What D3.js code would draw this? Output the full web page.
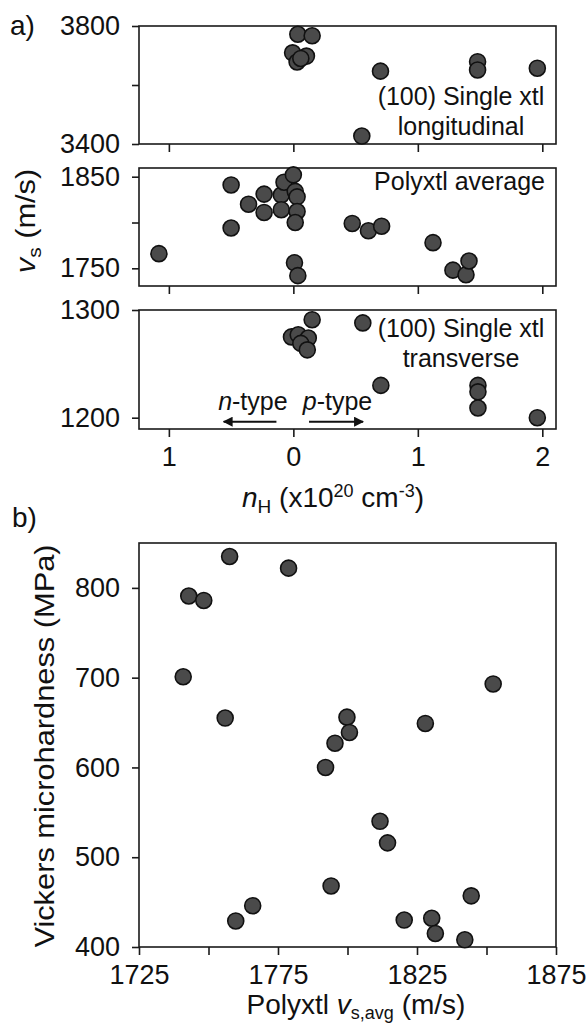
<!DOCTYPE html>
<html>
<head>
<meta charset="utf-8">
<script src="https://cdn.jsdelivr.net/npm/d3@7"></script>
<style>
  body { margin: 0; background: #fff; }
  svg text { font-family: "Liberation Sans", Arial, Helvetica, sans-serif; fill: #111; }
  .tick line { stroke: #1a1a1a; stroke-width: 1.6; }
  .domain { display: none; }
</style>
</head>
<body>
<svg id="fig" width="587" height="1026"></svg>
<script>
//////////////////// DATA ////////////////////
// panel a, top: (100) single crystal, longitudinal
const longN = [0.036, 0.151, -0.006, 0.105, 0.03, 0.06, 0.70, 1.48, 1.48, 1.96, 0.55];
const longV = [3772, 3767, 3709, 3698, 3678, 3690, 3647, 3679, 3651, 3657, 3427];

// panel a, middle: polycrystal average
const avgN = [-1.08, -0.50, -0.50, -0.36, -0.235, -0.235, -0.097, -0.097, -0.075, 0.0, 0.015, 0.03,
              0.03, 0.015, 0.009, 0.036, 0.473, 0.603, 0.709, 1.122, 1.282, 1.387, 1.411];
const avgV = [1766, 1841, 1794, 1820, 1831, 1811, 1830, 1814, 1844, 1852, 1834, 1828,
              1812, 1800, 1756, 1742, 1799, 1791, 1796, 1778, 1748, 1743, 1758];

// panel a, bottom: (100) single crystal, transverse
const transN = [0.151, 0.558, -0.015, 0.039, 0.12, 0.06, 0.112, 0.703, 1.483, 1.483, 1.483, 1.96];
const transV = [1291, 1288, 1275, 1277, 1274, 1269, 1263, 1230, 1230, 1224, 1209, 1200];

// panel b: hardness vs polycrystal average sound velocity
const hardVs = [1740.9, 1742.9, 1748.3, 1757.6, 1778.8, 1756, 1852.4, 1799.8, 1800.7, 1795.5, 1792.1,
                1828, 1811.7, 1814.4, 1794.1, 1765.9, 1759.8, 1820.4, 1830.3, 1831.6, 1842.2, 1844.5];
const hardHv = [701, 791, 786, 835, 822, 655, 693, 656, 639, 627, 600,
                649, 540, 516, 468, 446, 429, 430, 432, 415, 408, 457];

// ticks
const xTicksA = [-1, 0, 1, 2];
const yTicksTop = [3400, 3600, 3800], yLabelsTop = [3400, 3800];
const yTicksMid = [1750, 1800, 1850], yLabelsMid = [1750, 1850];
const yTicksBot = [1200, 1300], yLabelsBot = [1200, 1300];
const xTicksB = [1725, 1750, 1775, 1800, 1825, 1850, 1875], xLabelsB = [1725, 1775, 1825, 1875];
const yTicksB = [400, 500, 600, 700, 800];


//////////////////// SIZES ////////////////////
const svg = d3.select("#fig");
const plotLeft = 139, plotRight = 556;
const fontTick = 27, fontTitle = 28, fontNote = 25;
const markerR = 8;


//////////////////// SCALES ////////////////////
const xA = d3.scaleLinear().domain([-1.24, 2.11]).range([plotLeft, plotRight]);
const panelsA = [
    { top: 26, bottom: 144, domain: [3400, 3800], ticks: yTicksTop, labels: yLabelsTop, n: longN, v: longV },
    { top: 168, bottom: 286, domain: [1730.7, 1859.5], ticks: yTicksMid, labels: yLabelsMid, n: avgN, v: avgV },
    { top: 310, bottom: 429, domain: [1189.5, 1300], ticks: yTicksBot, labels: yLabelsBot, n: transN, v: transV }
];
panelsA.forEach(p => {
    p.y = d3.scaleLinear().domain(p.domain).range([p.bottom, p.top]);
});

const xB = d3.scaleLinear().domain([1725, 1875]).range([plotLeft, plotRight]);
const yB = d3.scaleLinear().domain([400, 850]).range([947, 543]);


//////////////////// HELPERS ////////////////////
function drawFrame(top, bottom) {
    svg.append("rect")
        .attr("x", plotLeft)
        .attr("y", top)
        .attr("width", plotRight - plotLeft)
        .attr("height", bottom - top)
        .attr("fill", "none")
        .attr("stroke", "#1a1a1a")
        .attr("stroke-width", 1.6);
}

function drawPoints(xs, ys, xScale, yScale) {
    svg.append("g")
        .selectAll("circle")
        .data(xs.map((d, i) => [d, ys[i]]))
        .join("circle")
        .attr("cx", d => xScale(d[0]))
        .attr("cy", d => yScale(d[1]))
        .attr("r", markerR)
        .attr("fill", "#4a4a4a")
        .attr("stroke", "#111")
        .attr("stroke-width", 1.6);
}

function styleAxis(g) {
    g.selectAll("text").style("font-size", fontTick + "px");
}


//////////////////// PANEL a ////////////////////
panelsA.forEach(p => {
    drawFrame(p.top, p.bottom);

    svg.append("g")
        .attr("transform", `translate(${plotLeft},0)`)
        .call(d3.axisLeft(p.y).tickValues(p.ticks).tickSize(7).tickPadding(12)
            .tickFormat(d => p.labels.includes(d) ? d : ""))
        .call(styleAxis);

    svg.append("g")
        .attr("transform", `translate(0,${p.bottom})`)
        .call(d3.axisBottom(xA).tickValues(xTicksA).tickSize(8).tickPadding(10)
            .tickFormat(d => p === panelsA[2] ? Math.abs(d) : ""))
        .call(styleAxis);

    drawPoints(p.n, p.v, xA, p.y);
});

// panel notes
const noteX = 461;
svg.append("text").attr("x", noteX).attr("y", 105).attr("text-anchor", "middle")
    .style("font-size", fontNote + "px").text("(100) Single xtl");
svg.append("text").attr("x", noteX).attr("y", 135).attr("text-anchor", "middle")
    .style("font-size", fontNote + "px").text("longitudinal");
svg.append("text").attr("x", 545).attr("y", 190).attr("text-anchor", "end")
    .style("font-size", fontNote + "px").text("Polyxtl average");
svg.append("text").attr("x", noteX).attr("y", 337).attr("text-anchor", "middle")
    .style("font-size", fontNote + "px").text("(100) Single xtl");
svg.append("text").attr("x", noteX).attr("y", 367).attr("text-anchor", "middle")
    .style("font-size", fontNote + "px").text("transverse");

// n-type / p-type arrows
const yBot = panelsA[2].y;
svg.append("defs").append("marker")
    .attr("id", "head")
    .attr("viewBox", "0 0 10 10")
    .attr("refX", 9).attr("refY", 5)
    .attr("markerWidth", 5).attr("markerHeight", 5)
    .attr("orient", "auto")
    .append("path").attr("d", "M0,0 L10,5 L0,10 z").attr("fill", "#111");

[[-0.136, -0.56], [0.126, 0.56]].forEach(a => {
    svg.append("line")
        .attr("x1", xA(a[0])).attr("x2", xA(a[1]))
        .attr("y1", yBot(1196.3)).attr("y2", yBot(1196.3))
        .attr("stroke", "#111").attr("stroke-width", 2)
        .attr("marker-end", "url(#head)");
});

[["n", -0.325], ["p", 0.355]].forEach(t => {
    const txt = svg.append("text")
        .attr("x", xA(t[1])).attr("y", yBot(1207))
        .attr("text-anchor", "middle")
        .style("font-size", fontNote + "px");
    txt.append("tspan").style("font-style", "italic").text(t[0]);
    txt.append("tspan").text("-type");
});

// axis titles
const titleA = svg.append("text")
    .attr("x", 333).attr("y", 507)
    .attr("text-anchor", "middle")
    .style("font-size", fontTitle + "px");
titleA.append("tspan").style("font-style", "italic").text("n");
titleA.append("tspan").attr("dy", 6).style("font-size", "19px").text("H");
titleA.append("tspan").attr("dy", -6).text(" (x10");
titleA.append("tspan").attr("dy", -10).style("font-size", "18px").text("20");
titleA.append("tspan").attr("dy", 10).text(" cm");
titleA.append("tspan").attr("dy", -10).style("font-size", "18px").text("-3");
titleA.append("tspan").attr("dy", 10).text(")");

const yTitleA = svg.append("text")
    .attr("transform", "translate(35,221) rotate(-90) scale(1.1,1)")
    .attr("text-anchor", "middle")
    .style("font-size", fontTitle + "px");
yTitleA.append("tspan").style("font-style", "italic").text("v");
yTitleA.append("tspan").attr("dy", 6).style("font-size", "19px").text("s");
yTitleA.append("tspan").attr("dy", -6).text(" (m/s)");

svg.append("text").attr("x", 10).attr("y", 35)
    .style("font-size", fontTitle + "px").text("a)");


//////////////////// PANEL b ////////////////////
drawFrame(543, 947);

svg.append("g")
    .attr("transform", `translate(${plotLeft},0)`)
    .call(d3.axisLeft(yB).tickValues(yTicksB).tickSize(7).tickPadding(12))
    .call(styleAxis);

svg.append("g")
    .attr("transform", "translate(0,947)")
    .call(d3.axisBottom(xB).tickValues(xTicksB).tickSize(8).tickPadding(10)
        .tickFormat(d => xLabelsB.includes(d) ? d : ""))
    .call(styleAxis);

drawPoints(hardVs, hardHv, xB, yB);

const titleB = svg.append("text")
    .attr("x", 356).attr("y", 1014)
    .attr("text-anchor", "middle")
    .style("font-size", fontTitle + "px");
titleB.append("tspan").text("Polyxtl ");
titleB.append("tspan").style("font-style", "italic").text("v");
titleB.append("tspan").attr("dy", 5).style("font-size", "18px").text("s,avg");
titleB.append("tspan").attr("dy", -5).text(" (m/s)");

svg.append("text")
    .attr("transform", "translate(54,746) rotate(-90) scale(1.1,1)")
    .attr("text-anchor", "middle")
    .style("font-size", fontTitle + "px")
    .text("Vickers microhardness (MPa)");

svg.append("text").attr("x", 12).attr("y", 527)
    .style("font-size", fontTitle + "px").text("b)");
</script>
</body>
</html>
